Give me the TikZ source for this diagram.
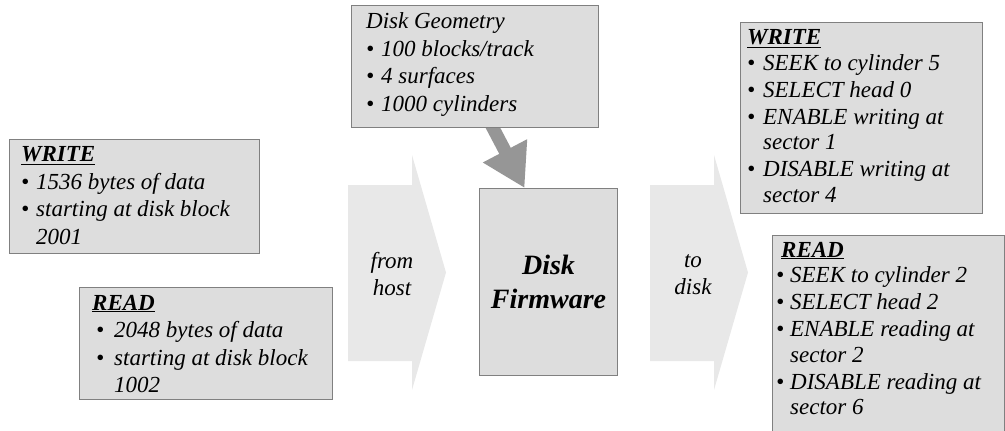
\documentclass[tikz,border=0pt]{standalone}
\usepackage{fontspec}
\setmainfont{Liberation Serif}
\usetikzlibrary{arrows.meta,backgrounds}
\definecolor{boxfill}{RGB}{221,221,221}
\definecolor{boxline}{RGB}{128,128,128}
\definecolor{bigarrow}{RGB}{232,232,232}
\definecolor{geoarrow}{RGB}{150,150,150}
\newcommand{\bul}[2][15pt]{\makebox[#1][l]{\hspace*{#2}\textbullet}}
\begin{document}
\begin{tikzpicture}[x=1pt,y=-1pt,
  box/.style={draw=boxline, fill=boxfill, line width=1.1pt, inner sep=0pt, anchor=north west},
  txtA/.style={anchor=north west, inner sep=0pt, align=left, font=\fontsize{23}{27.5}\selectfont\itshape},
  txtB/.style={anchor=north west, inner sep=0pt, align=left, font=\fontsize{23}{25.5}\selectfont\itshape},
  flow/.style={inner sep=0pt, align=center, font=\fontsize{23}{27}\selectfont\itshape},
  blockarrow/.style={fill=bigarrow, draw=none}]
\clip (0,0) rectangle (1005,431);

% big block arrows
\fill[blockarrow] (348,185) -- (412,185) -- (412,155) -- (446,272.5) -- (412,390) -- (412,361) -- (348,361) -- cycle;
\fill[blockarrow] (650,185) -- (714,185) -- (714,155) -- (748,272.5) -- (714,390) -- (714,361) -- (650,361) -- cycle;
\node[flow] (fromhost) at (392,274) {from\\host};
\node[flow] (todisk) at (693,275) {to\\disk};

% host requests
\node[box, minimum width=250pt, minimum height=114pt] (lw) at (9,139) {};
\node[txtA] (lwt) at (21,146.7) {\underline{\textbf{WRITE}}\\
\bul{0pt}1536 bytes of data\\
\bul{0pt}starting at disk block\\
\hspace*{15pt}2001};

\node[box, minimum width=253pt, minimum height=112pt] (lr) at (79,287) {};
\node[txtA] (lrt) at (92,294.7) {\underline{\textbf{READ}}\\
\bul[22pt]{4pt}2048 bytes of data\\
\bul[22pt]{4pt}starting at disk block\\
\hspace*{22pt}1002};

% disk geometry
\node[box, minimum width=247pt, minimum height=122pt] (geom) at (351,5) {};
\node[txtA] (geomt) at (366,12.5) {Disk Geometry\\
\bul{0pt}100 blocks/track\\
\bul{0pt}4 surfaces\\
\bul{0pt}1000 cylinders};

% firmware
\node[box, minimum width=138pt, minimum height=187pt, align=center,
  font=\fontsize{28}{34}\selectfont\bfseries\itshape] (fw) at (479,188) {Disk\\Firmware};

\begin{pgfonlayer}{background}
\draw[geoarrow, line width=13pt, -{Triangle[width=47pt,length=42pt]}]
  ([xshift=13.8pt,yshift=8pt]geom.south) -- ([xshift=-24pt]fw.north);
\end{pgfonlayer}

% disk commands
\node[box, minimum width=242pt, minimum height=191pt] (rw) at (740,22) {};
\node[txtB] (rwt) at (747,29.7) {\underline{\textbf{WRITE}}\\
\bul[16pt]{0pt}SEEK to cylinder 5\\[1.5pt]
\bul[16pt]{0pt}SELECT head 0\\[1.5pt]
\bul[16pt]{0pt}ENABLE writing at\\
\hspace*{16pt}sector 1\\[1.5pt]
\bul[16pt]{0pt}DISABLE writing at\\
\hspace*{16pt}sector 4};

\node[box, minimum width=232pt, minimum height=240pt] (rr) at (772,235) {};
\node[txtB] (rrt) at (776,241.7) {\hspace*{5pt}\underline{\textbf{READ}}\\
\bul[14pt]{0pt}SEEK to cylinder 2\\[1.5pt]
\bul[14pt]{0pt}SELECT head 2\\[1.5pt]
\bul[14pt]{0pt}ENABLE reading at\\
\hspace*{14pt}sector 2\\[1.5pt]
\bul[14pt]{0pt}DISABLE reading at\\
\hspace*{14pt}sector 6};
\end{tikzpicture}
\end{document}
